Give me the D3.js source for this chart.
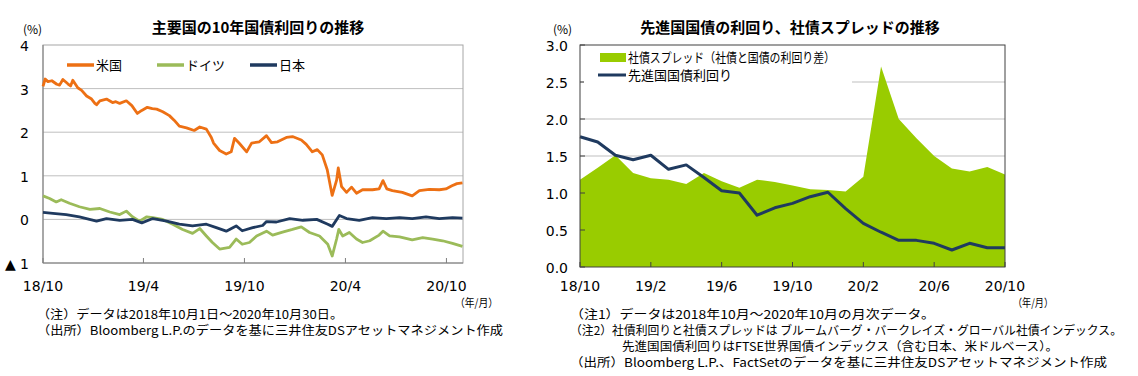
<!DOCTYPE html>
<html>
<head>
<meta charset="utf-8">
<script src="https://cdn.jsdelivr.net/npm/d3@7"></script>
<style>
  body { margin: 0; background: #fff; }
  svg text { font-family: "Noto Sans CJK JP", "Noto Sans", sans-serif; fill: #000; }
  .num { font-family: "DejaVu Sans", Verdana, sans-serif; }
</style>
</head>
<body>
<svg id="chart" width="1138" height="376"></svg>
<script>
// ---- left chart data: 10y govt bond yields (%) ----
const usDates = ["2018-10-01","2018-10-05","2018-10-10","2018-10-17","2018-10-26","2018-10-31","2018-11-06","2018-11-15","2018-11-20","2018-11-24","2018-12-03","2018-12-10","2018-12-19","2018-12-28","2019-01-03","2019-01-06","2019-01-12","2019-01-24","2019-02-04","2019-02-10","2019-02-17","2019-03-01","2019-03-11","2019-03-21","2019-03-29","2019-04-08","2019-04-17","2019-04-25","2019-05-06","2019-05-18","2019-05-27","2019-06-05","2019-06-18","2019-07-02","2019-07-12","2019-07-24","2019-08-02","2019-08-06","2019-08-17","2019-08-29","2019-09-07","2019-09-13","2019-09-22","2019-10-05","2019-10-14","2019-10-28","2019-11-10","2019-11-19","2019-11-30","2019-12-16","2019-12-27","2020-01-12","2020-01-21","2020-02-01","2020-02-10","2020-02-19","2020-02-28","2020-03-08","2020-03-16","2020-03-19","2020-03-25","2020-04-03","2020-04-12","2020-04-21","2020-05-02","2020-05-20","2020-06-01","2020-06-08","2020-06-15","2020-06-25","2020-07-13","2020-07-31","2020-08-13","2020-08-31","2020-09-18","2020-09-30","2020-10-11","2020-10-20","2020-10-30"];
const usYield = [3.05,3.22,3.16,3.18,3.10,3.08,3.21,3.11,3.06,3.19,3.02,2.96,2.83,2.76,2.66,2.63,2.72,2.76,2.68,2.70,2.66,2.72,2.61,2.43,2.50,2.57,2.54,2.53,2.47,2.38,2.27,2.14,2.10,2.04,2.12,2.07,1.88,1.75,1.58,1.50,1.55,1.86,1.74,1.55,1.75,1.78,1.92,1.76,1.78,1.88,1.90,1.82,1.72,1.55,1.60,1.48,1.14,0.55,0.90,1.18,0.75,0.62,0.74,0.60,0.68,0.68,0.70,0.89,0.70,0.66,0.62,0.54,0.66,0.69,0.68,0.70,0.77,0.82,0.84];

const deDates = ["2018-10-01","2018-10-13","2018-10-25","2018-11-03","2018-11-18","2018-12-06","2018-12-25","2019-01-12","2019-01-30","2019-02-17","2019-03-01","2019-03-12","2019-03-25","2019-04-07","2019-04-18","2019-05-06","2019-05-24","2019-06-11","2019-06-29","2019-07-12","2019-07-24","2019-08-04","2019-08-17","2019-09-04","2019-09-16","2019-09-27","2019-10-10","2019-10-23","2019-11-10","2019-11-21","2019-12-09","2019-12-27","2020-01-12","2020-01-27","2020-02-14","2020-02-29","2020-03-08","2020-03-16","2020-03-20","2020-03-27","2020-04-08","2020-04-21","2020-05-02","2020-05-15","2020-06-01","2020-06-08","2020-06-20","2020-07-08","2020-07-31","2020-08-19","2020-09-06","2020-09-24","2020-10-12","2020-10-30"];
const deYield = [0.54,0.48,0.40,0.45,0.37,0.29,0.23,0.25,0.17,0.11,0.19,0.06,-0.04,0.06,0.04,0.00,-0.11,-0.23,-0.32,-0.21,-0.38,-0.53,-0.68,-0.64,-0.45,-0.57,-0.53,-0.38,-0.27,-0.36,-0.29,-0.23,-0.17,-0.30,-0.38,-0.57,-0.84,-0.45,-0.23,-0.38,-0.30,-0.45,-0.53,-0.49,-0.36,-0.27,-0.38,-0.40,-0.47,-0.42,-0.45,-0.49,-0.55,-0.62];

const jpDates = ["2018-10-01","2018-10-19","2018-11-12","2018-12-06","2019-01-06","2019-01-24","2019-02-17","2019-03-12","2019-03-29","2019-04-18","2019-05-13","2019-06-05","2019-06-29","2019-07-24","2019-08-11","2019-08-29","2019-09-16","2019-09-27","2019-10-16","2019-11-03","2019-11-10","2019-11-28","2019-12-22","2020-01-15","2020-02-09","2020-02-29","2020-03-08","2020-03-21","2020-04-03","2020-04-26","2020-05-20","2020-06-14","2020-07-08","2020-07-31","2020-08-25","2020-09-18","2020-10-12","2020-10-30"];
const jpYield = [0.16,0.14,0.11,0.06,-0.04,0.02,-0.02,0.00,-0.08,0.02,-0.04,-0.11,-0.15,-0.11,-0.19,-0.27,-0.15,-0.26,-0.19,-0.14,-0.05,-0.06,0.02,-0.02,0.00,-0.11,-0.16,0.09,0.02,-0.02,0.04,0.02,0.04,0.02,0.06,0.02,0.04,0.03];

const leftTickDates = ["2018-10-01","2019-04-01","2019-10-01","2020-04-01","2020-10-01"];
const leftTickLabels = ["18/10","19/4","19/10","20/4","20/10"];

// ---- right chart data: monthly, 2018/10 - 2020/10 ----
const months = ["18/10","18/11","18/12","19/1","19/2","19/3","19/4","19/5","19/6","19/7","19/8","19/9","19/10","19/11","19/12","20/1","20/2","20/3","20/4","20/5","20/6","20/7","20/8","20/9","20/10"];
const spread = [1.18,1.34,1.51,1.27,1.20,1.18,1.12,1.27,1.16,1.07,1.18,1.15,1.10,1.05,1.04,1.02,1.22,2.71,2.00,1.74,1.50,1.33,1.29,1.35,1.25];
const dmYield = [1.76,1.69,1.51,1.45,1.51,1.32,1.38,1.21,1.03,1.00,0.70,0.80,0.86,0.95,1.01,0.79,0.59,0.47,0.36,0.36,0.32,0.23,0.32,0.26,0.26];
const rightTickMonths = ["18/10","19/2","19/6","19/10","20/2","20/6","20/10"];

const svg = d3.select("#chart");
const parse = d3.timeParse("%Y-%m-%d");

// ================= left chart =================
const L = {left: 43, right: 463, top: 45, bottom: 263};
const lx = d3.scaleTime()
    .domain([parse("2018-10-01"), parse("2020-10-31")])
    .range([L.left, L.right]);
const ly = d3.scaleLinear().domain([-1, 4]).range([L.bottom, L.top]);

const lg = svg.append("g");

lg.append("text")
    .attr("x", 258).attr("y", 33)
    .attr("text-anchor", "middle")
    .style("font-size", "15px").style("font-weight", "bold")
    .text("主要国の10年国債利回りの推移");

lg.append("text").attr("x", 23).attr("y", 34)
    .style("font-size", "12px").text("(%)");

// gridlines
lg.selectAll(".lgrid").data(d3.range(0, 4))
    .enter().append("line")
    .attr("x1", L.left).attr("x2", L.right)
    .attr("y1", d => ly(d)).attr("y2", d => ly(d))
    .attr("stroke", "#bfbfbf").attr("stroke-width", 1);

// frame
lg.append("rect")
    .attr("x", L.left).attr("y", L.top)
    .attr("width", L.right - L.left).attr("height", L.bottom - L.top)
    .attr("fill", "none").attr("stroke", "#a6a6a6");
lg.append("line").attr("x1", L.left).attr("x2", L.left)
    .attr("y1", L.top).attr("y2", L.bottom).attr("stroke", "#7f7f7f");
lg.append("line").attr("x1", L.left).attr("x2", L.right)
    .attr("y1", L.bottom).attr("y2", L.bottom).attr("stroke", "#7f7f7f");

// x ticks (inside, upward)
lg.selectAll(".lxt").data(leftTickDates)
    .enter().append("line")
    .attr("x1", d => lx(parse(d))).attr("x2", d => lx(parse(d)))
    .attr("y1", L.bottom).attr("y2", L.bottom - 5)
    .attr("stroke", "#7f7f7f");

lg.selectAll(".lxl").data(leftTickDates)
    .enter().append("text")
    .attr("class", "num")
    .attr("x", d => lx(parse(d))).attr("y", L.bottom + 28)
    .attr("text-anchor", "middle")
    .style("font-size", "14px")
    .text((d, i) => leftTickLabels[i]);

lg.selectAll(".lyl").data(d3.range(-1, 5))
    .enter().append("text")
    .attr("class", "num")
    .attr("x", 29).attr("y", d => ly(d) + 6)
    .attr("text-anchor", "end")
    .style("font-size", "14px")
    .text(d => d < 0 ? "▲ " + (-d) : d);

const leftSeries = [
    {name: "米国", dates: usDates, vals: usYield, color: "#ed7014"},
    {name: "ドイツ", dates: deDates, vals: deYield, color: "#9bbb59"},
    {name: "日本", dates: jpDates, vals: jpYield, color: "#1f3a5f"}
];

const lline = d3.line()
    .x(d => lx(d.date))
    .y(d => ly(d.v));

// draw germany first, then japan, then US on top
[1, 2, 0].forEach(i => {
    let s = leftSeries[i];
    let pts = s.dates.map((d, j) => ({date: parse(d), v: s.vals[j]}));
    lg.append("path")
        .datum(pts)
        .attr("fill", "none")
        .attr("stroke", s.color)
        .attr("stroke-width", 2.8)
        .attr("stroke-linejoin", "round")
        .attr("d", lline);
});

// legend
const legX = [67, 157, 250];
leftSeries.forEach((s, i) => {
    lg.append("line")
        .attr("x1", legX[i]).attr("x2", legX[i] + 27)
        .attr("y1", 65).attr("y2", 65)
        .attr("stroke", s.color).attr("stroke-width", 3.5);
    lg.append("text")
        .attr("x", legX[i] + 29).attr("y", 70)
        .style("font-size", "13px")
        .text(s.name);
});

lg.append("text").attr("x", 455).attr("y", 307)
    .attr("textLength", 43).attr("lengthAdjust", "spacingAndGlyphs")
    .style("font-size", "11px").text("（年/月）");
lg.append("text").attr("x", 37).attr("y", 319)
    .attr("textLength", 306).attr("lengthAdjust", "spacingAndGlyphs")
    .style("font-size", "12px").text("（注）データは2018年10月1日～2020年10月30日。");
lg.append("text").attr("x", 37).attr("y", 335)
    .attr("textLength", 466).attr("lengthAdjust", "spacingAndGlyphs")
    .style("font-size", "12px").text("（出所）Bloomberg L.P.のデータを基に三井住友DSアセットマネジメント作成");

// ================= right chart =================
const R = {left: 580, right: 1005, top: 45, bottom: 267};
const rx = d3.scalePoint().domain(months).range([R.left, R.right]);
const ry = d3.scaleLinear().domain([0, 3]).range([R.bottom, R.top]);

const rg = svg.append("g");

rg.append("text")
    .attr("x", 790).attr("y", 33)
    .attr("text-anchor", "middle")
    .style("font-size", "15px").style("font-weight", "bold")
    .text("先進国国債の利回り、社債スプレッドの推移");

rg.append("text").attr("x", 553).attr("y", 34)
    .style("font-size", "12px").text("(%)");

rg.selectAll(".rgrid").data(d3.range(0.5, 3, 0.5))
    .enter().append("line")
    .attr("x1", R.left).attr("x2", R.right)
    .attr("y1", d => ry(d)).attr("y2", d => ry(d))
    .attr("stroke", "#bfbfbf");

rg.append("path")
    .datum(spread)
    .attr("fill", "#99cc00")
    .attr("d", d3.area()
        .x((d, i) => rx(months[i]))
        .y0(ry(0))
        .y1(d => ry(d)));

rg.append("path")
    .datum(dmYield)
    .attr("fill", "none")
    .attr("stroke", "#1f3a5f")
    .attr("stroke-width", 3)
    .attr("stroke-linejoin", "round")
    .attr("d", d3.line()
        .x((d, i) => rx(months[i]))
        .y(d => ry(d)));

rg.append("rect")
    .attr("x", R.left).attr("y", R.top)
    .attr("width", R.right - R.left).attr("height", R.bottom - R.top)
    .attr("fill", "none").attr("stroke", "#404040");

rg.selectAll(".rxt").data(rightTickMonths)
    .enter().append("line")
    .attr("x1", d => rx(d)).attr("x2", d => rx(d))
    .attr("y1", R.bottom).attr("y2", R.bottom - 5)
    .attr("stroke", "#404040");

rg.selectAll(".ryt").data(d3.range(0, 3.01, 0.5))
    .enter().append("line")
    .attr("x1", R.left).attr("x2", R.left + 5)
    .attr("y1", d => ry(d)).attr("y2", d => ry(d))
    .attr("stroke", "#404040");

rg.selectAll(".rxl").data(rightTickMonths)
    .enter().append("text")
    .attr("class", "num")
    .attr("x", d => rx(d)).attr("y", 291)
    .attr("text-anchor", "middle")
    .style("font-size", "14px")
    .text(d => d);

rg.selectAll(".ryl").data(d3.range(0, 3.01, 0.5))
    .enter().append("text")
    .attr("class", "num")
    .attr("x", 568).attr("y", d => ry(d) + 6)
    .attr("text-anchor", "end")
    .style("font-size", "14px")
    .text(d => d3.format(".1f")(d));

// legend, white box hides gridline
rg.append("rect").attr("x", 584).attr("y", 49)
    .attr("width", 268).attr("height", 38).attr("fill", "#fff");
rg.append("rect").attr("x", 600).attr("y", 53)
    .attr("width", 26).attr("height", 9).attr("fill", "#99cc00");
rg.append("text").attr("x", 628).attr("y", 62)
    .attr("textLength", 207).attr("lengthAdjust", "spacingAndGlyphs")
    .style("font-size", "13px").text("社債スプレッド（社債と国債の利回り差）");
rg.append("line").attr("x1", 598).attr("x2", 626)
    .attr("y1", 75).attr("y2", 75)
    .attr("stroke", "#1f3a5f").attr("stroke-width", 3);
rg.append("text").attr("x", 628).attr("y", 80)
    .style("font-size", "13px").text("先進国国債利回り");

rg.append("text").attr("x", 1013).attr("y", 307)
    .attr("textLength", 40).attr("lengthAdjust", "spacingAndGlyphs")
    .style("font-size", "11px").text("（年/月）");

const notes = [
    {x: 570, y: 319, w: 365, t: "（注1）データは2018年10月～2020年10月の月次データ。"},
    {x: 570, y: 335, w: 552, t: "（注2）社債利回りと社債スプレッドは ブルームバーグ・バークレイズ・グローバル社債インデックス。"},
    {x: 622, y: 351, w: 436, t: "先進国国債利回りはFTSE世界国債インデックス（含む日本、米ドルベース）。"},
    {x: 570, y: 367, w: 537, t: "（出所）Bloomberg L.P.、FactSetのデータを基に三井住友DSアセットマネジメント作成"}
];
rg.selectAll(".note").data(notes)
    .enter().append("text")
    .attr("x", d => d.x).attr("y", d => d.y)
    .attr("textLength", d => d.w).attr("lengthAdjust", "spacingAndGlyphs")
    .style("font-size", "12px")
    .text(d => d.t);
</script>
</body>
</html>
